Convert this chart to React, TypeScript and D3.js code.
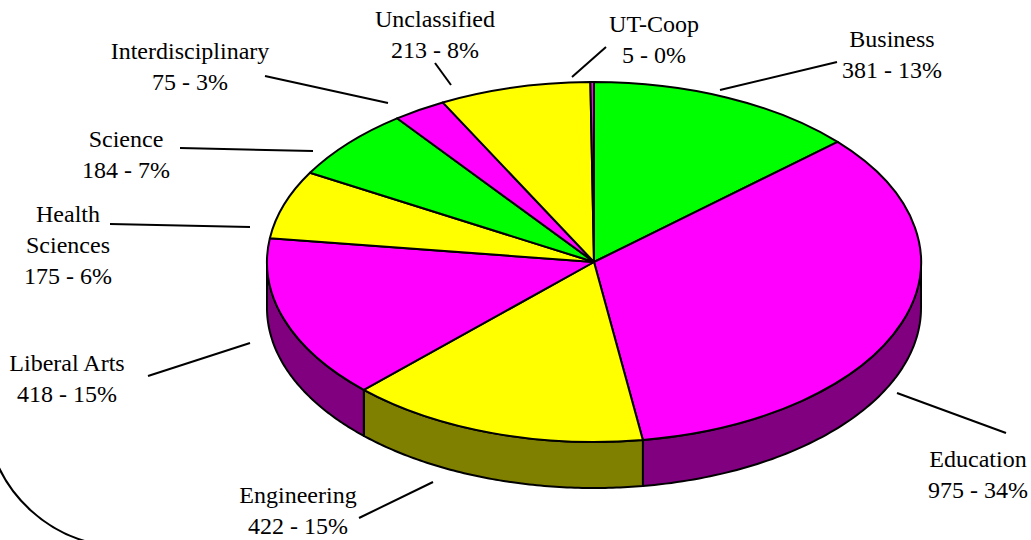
import React from "react";
import * as d3 from "d3";

// enrollment by college
const categories = [
  "Business",
  "Education",
  "Engineering",
  "Liberal Arts",
  "Health Sciences",
  "Science",
  "Interdisciplinary",
  "Unclassified",
  "UT-Coop",
];
const counts = [381, 975, 422, 418, 175, 184, 75, 213, 5];
const percentLabels = ["13%", "34%", "15%", "15%", "6%", "7%", "3%", "8%", "0%"];

// styles
const topColors = ["#00ff00", "#ff00ff", "#ffff00", "#ff00ff", "#ffff00", "#00ff00", "#ff00ff", "#ffff00", "#ff00ff"];
const sideColors = ["#008000", "#800080", "#808000", "#800080", "#808000", "#008000", "#800080", "#808000", "#800080"];

// label placement: text centre / first baseline, leader from -> to
const labelLayout = [
  { x: 892, y: 47, lines: 1, leader: [[720, 90], [837, 62]] },
  { x: 978, y: 467, lines: 1, leader: [[897, 393], [1006, 433]] },
  { x: 298, y: 503, lines: 1, leader: [[433, 482], [359, 518]] },
  { x: 67, y: 371, lines: 1, leader: [[250, 343], [148, 376]] },
  { x: 68, y: 222, lines: 2, leader: [[250, 227], [110, 224]] },
  { x: 126, y: 147, lines: 1, leader: [[313, 151], [180, 148]] },
  { x: 190, y: 59, lines: 1, leader: [[388, 103], [265, 76]] },
  { x: 435, y: 27, lines: 1, leader: [[451, 85], [435, 63]] },
  { x: 654, y: 32, lines: 1, leader: [[572, 77], [606, 47]] },
];

const W = 1031;
const H = 540;
const cx = 594;
const cy = 262;
const rx = 327;
const ry = 180;
const depth = 46;
const R = 1000;
const lineH = 31;
const font = '"Liberation Serif", "DejaVu Serif", "Times New Roman", Times, serif';

const pt = (a: number, dy = 0): [number, number] => [
  cx + rx * Math.sin(a),
  cy - ry * Math.cos(a) + dy,
];

function sidePath(a0: number, a1: number): string | null {
  const s = Math.max(a0, Math.PI / 2);
  const e = Math.min(a1, (3 * Math.PI) / 2);
  if (e <= s) return null;
  const steps = d3.range(0, 81).map((i) => s + ((e - s) * i) / 80);
  const top = steps.map((a) => pt(a));
  const bottom = steps.slice().reverse().map((a) => pt(a, depth));
  return (d3.line()([...top, ...bottom]) ?? "") + "Z";
}

export default function App() {
  const pie = d3
    .pie<number>()
    .sort(null)
    .value((d) => d)
    .startAngle(0)
    .endAngle(2 * Math.PI);
  const arcs = pie(counts);
  const arc = d3.arc<d3.PieArcDatum<number>>().innerRadius(0).outerRadius(R);

  return (
    <svg
      width={W}
      height={H}
      viewBox={`0 0 ${W} ${H}`}
      style={{ position: "absolute", left: 0, top: 0, background: "#fff" }}
    >
      {/* plot area border corner */}
      <path d="M -12 433 A 138 138 0 0 0 112 546" fill="none" stroke="#000" strokeWidth={2} />

      {/* side walls */}
      <g stroke="#000" strokeWidth={2} strokeLinejoin="round">
        {arcs.map((a, i) => {
          const d = sidePath(a.startAngle, a.endAngle);
          return d ? <path key={i} d={d} fill={sideColors[i]} /> : null;
        })}
      </g>

      {/* top faces */}
      <g transform={`translate(${cx},${cy}) scale(${rx / R},${ry / R})`}>
        {arcs.map((a, i) => (
          <path
            key={i}
            d={arc(a) ?? ""}
            fill={topColors[i]}
            stroke="#000"
            strokeWidth={2}
            strokeLinejoin="round"
            vectorEffect="non-scaling-stroke"
          />
        ))}
      </g>

      {/* labels */}
      <g style={{ fontFamily: font, fontSize: "24px" }} fill="#000" textAnchor="middle">
        {categories.map((name, i) => {
          const lay = labelLayout[i];
          const nameLines = lay.lines === 2 ? name.split(" ") : [name];
          const lines = [...nameLines, `${counts[i]} - ${percentLabels[i]}`];
          return (
            <g key={name}>
              <line
                x1={lay.leader[0][0]}
                y1={lay.leader[0][1]}
                x2={lay.leader[1][0]}
                y2={lay.leader[1][1]}
                stroke="#000"
                strokeWidth={2}
              />
              <text x={lay.x} y={lay.y} style={{ fontFamily: font }}>
                {lines.map((t, j) => (
                  <tspan key={j} x={lay.x} dy={j === 0 ? 0 : lineH}>
                    {t}
                  </tspan>
                ))}
              </text>
            </g>
          );
        })}
      </g>
    </svg>
  );
}
